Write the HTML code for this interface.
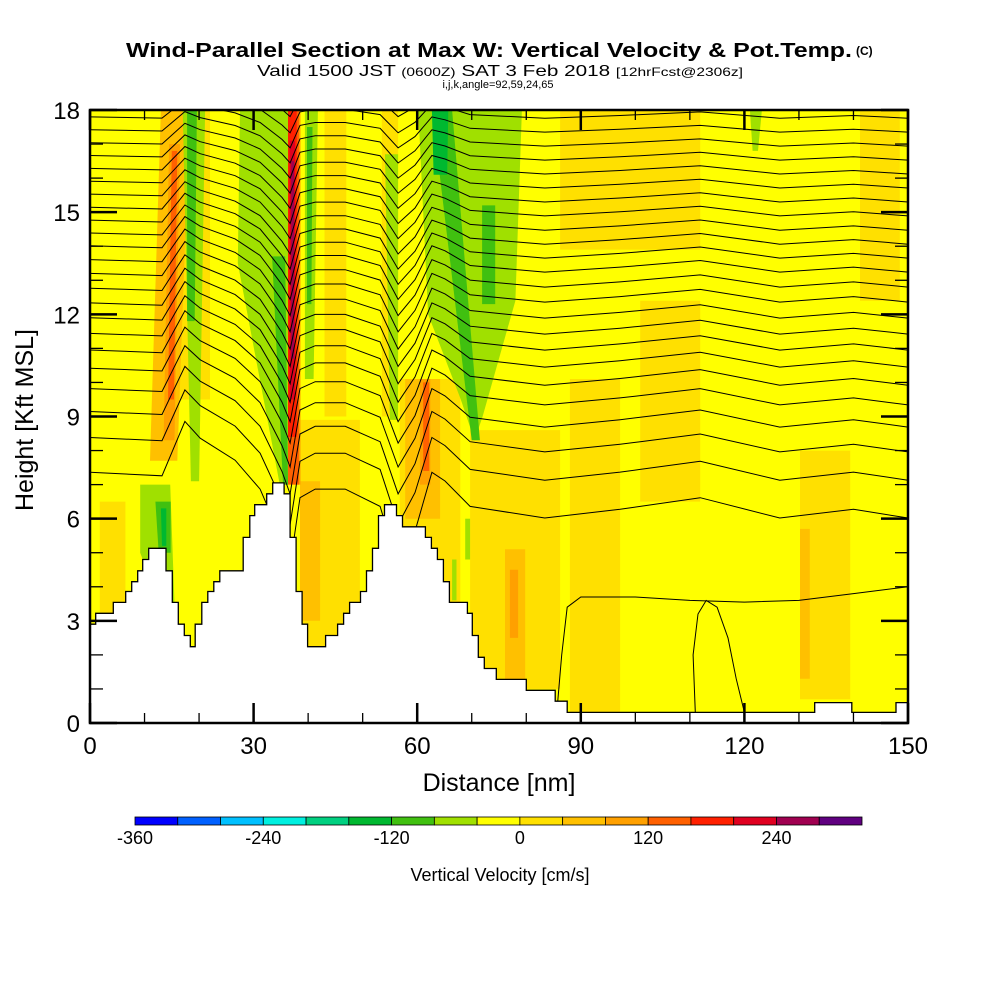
<!DOCTYPE html>
<html><head><meta charset="utf-8"><style>
html,body{margin:0;padding:0;background:#fff;}
svg{display:block;font-family:"Liberation Sans",Arial,sans-serif;}
</style></head><body>
<svg id="chart" width="1000" height="1000" viewBox="0 0 1000 1000" xmlns="http://www.w3.org/2000/svg">
<defs><clipPath id="plotclip"><rect x="90" y="110" width="818" height="613"/></clipPath></defs>
<g>
<text x="126" y="57" font-size="20" font-weight="bold" textLength="726" lengthAdjust="spacingAndGlyphs">Wind-Parallel Section at Max W: Vertical Velocity &amp; Pot.Temp.</text>
<text x="856" y="55" font-size="12" font-weight="bold">(C)</text>
<text x="257" y="76" font-size="16" textLength="486" lengthAdjust="spacingAndGlyphs">Valid 1500 JST <tspan font-size="12">(0600Z)</tspan> SAT 3 Feb 2018 <tspan font-size="12">[12hrFcst@2306z]</tspan></text>
<text x="498" y="88" font-size="11" text-anchor="middle">i,j,k,angle=92,59,24,65</text>
</g>
<g id="plot" clip-path="url(#plotclip)">
<rect x="90" y="110" width="818" height="613" fill="#ffff00"/>
<g id="patches"></g>
<g id="contours"></g>
<path id="terrain" fill="#fff" stroke="#000" stroke-width="1.3"/>
</g>
<rect x="90" y="110" width="818" height="613" fill="none" stroke="#000" stroke-width="2.5"/>
<g id="axes"></g>
<text x="499" y="791" font-size="25" text-anchor="middle">Distance [nm]</text>
<text transform="translate(33,420) rotate(-90)" font-size="25" text-anchor="middle">Height [Kft MSL]</text>
<g id="colorbar"></g>
<text x="500" y="881" font-size="18" text-anchor="middle">Vertical Velocity [cm/s]</text>
</svg>
<script>
const NS="http://www.w3.org/2000/svg";
// ---- data ----
const xTicks=[0,30,60,90,120,150];
const yTicks=[0,3,6,9,12,15,18];
const cbColors=["#0000ff","#0060ff","#00c0ff","#00f0e0","#00d080","#00b830","#40c010","#a0e000","#ffff00","#ffe000","#ffc000","#ffa000","#ff6000","#ff2000","#e00020","#a00050","#600080"];
const cbLabels=[-360,-240,-120,0,120,240];
const terrainNm=[0,1.04,4.28,6.54,7.64,8.74,9.66,10.76,13.94,15.1,16.2,17.3,18.4,19.3,20.5,21.6,22.7,23.8,28.1,29.3,30.2,32.4,33.5,35.6,36.7,37.8,38.9,39.9,43.2,45.4,46.5,47.6,49.6,50.7,51.8,52.9,54.0,56.2,57.3,61.5,62.6,63.7,64.8,65.9,69.2,70.1,71.2,72.3,74.5,80.0,85.3,87.5,132.9,139.7,147.8];
const terrainKft=[2.90,3.22,3.54,3.86,4.15,4.47,4.80,5.13,4.47,3.54,2.90,2.57,2.24,2.90,3.54,3.86,4.15,4.47,5.45,6.09,6.41,6.73,7.05,6.73,5.45,3.86,2.90,2.24,2.57,2.90,3.22,3.54,3.86,4.47,5.13,6.09,6.41,6.09,5.76,5.45,5.13,4.80,4.15,3.54,3.22,2.57,1.93,1.60,1.28,0.96,0.64,0.31,0.60,0.31,0.60];
const thetaLevels=[18.6,18.2,17.76,17.35,16.94,16.53,16.12,15.71,15.30,14.89,14.47,14.06,13.65,13.24,12.80,12.36,11.89,11.42,10.95,10.45,9.92,9.34,8.69,7.96,7.13,6.02];
const waveNm=[0,13.2,17.4,20.2,26.6,31.2,35.2,36.7,38.5,41.3,46.8,53.2,56.5,59.6,62.7,65.1,69.7,83.4,97.2,100.9,111.9,126.5,140,150];
const waveKft=[0.79,0.73,1.67,1.38,1.0,0.5,-0.38,-0.82,0.35,0.5,0.5,0.2,-0.82,-0.23,0.79,0.64,0.2,0,0.15,0.2,0.35,0,0.15,0];
const lowNm=[85.6,86.5,87.5,90,100,110,120,130,140,150];
const lowKft=[0.31,2.0,3.4,3.7,3.7,3.6,3.55,3.6,3.8,4.0];
const loopNm=[111,110.6,111.5,113,115,117,118.5,120];
const loopKft=[0.31,2.0,3.2,3.6,3.4,2.5,1.3,0.31];
const patchValues=[20,20,20,20,20,20,20,20,20,20,20,20,60,60,60,60,60,100,100,100,100,140,140,140,180,220,260,-60,-60,-60,-60,-60,-60,-60,-60,-60,-100,-100,-100,-100,-100,-100,-140,-140];
const patchShapes=[
[[1.8,0.7],[6.5,0.7],[6.5,6.5],[1.8,6.5]],
[[38.5,2.1],[49.5,2.1],[49.5,8.9],[38.5,8.9]],
[[56.8,3],[67.9,3],[67.9,10.1],[56.8,10.1]],
[[69.7,1],[86.2,1],[86.2,8.6],[69.7,8.6]],
[[88,0.3],[97.2,0.3],[97.2,10.1],[88,10.1]],
[[100.9,6.5],[111.9,6.5],[111.9,12.4],[100.9,12.4]],
[[130.2,0.7],[139.4,0.7],[139.4,8],[130.2,8]],
[[141.2,12.4],[148.5,12.4],[148.5,18],[141.2,18]],
[[86.2,13.9],[111.9,13.9],[111.9,18],[86.2,18]],
[[15.6,9.5],[22,9.5],[22,18],[15.6,18]],
[[43,9],[47,9],[47,18],[43,18]],
[[53.5,9],[56.5,9],[56.5,18],[53.5,18]],
[[11,7.7],[16,7.7],[18.3,18],[13,18]],
[[57.8,6],[64.2,6],[64.2,10.1],[57.8,10.1]],
[[76.1,0.7],[79.8,0.7],[79.8,5.1],[76.1,5.1]],
[[38.5,3],[42.2,3],[42.2,7.1],[38.5,7.1]],
[[130.2,1.3],[132,1.3],[132,5.7],[130.2,5.7]],
[[13.5,8.3],[15.5,8.3],[16.5,17],[14.5,17]],
[[60.5,7],[62.4,7],[62.4,10.1],[60.5,10.1]],
[[37.2,7],[38.6,7],[38.6,18],[37.2,18]],
[[77,2.5],[78.5,2.5],[78.5,4.5],[77,4.5]],
[[14.3,9.5],[15.4,9.5],[16,16.8],[15,16.8]],
[[35.9,7],[38.3,7],[38.3,18],[35.9,18]],
[[61.1,7.4],[62.2,7.4],[62.2,10],[61.1,10]],
[[36.3,8.4],[37.9,8.4],[37.9,18],[36.3,18]],
[[36.6,9.5],[37.6,9.5],[37.6,17.1],[36.6,17.1]],
[[36.9,10.7],[37.4,10.7],[37.4,16.5],[36.9,16.5]],
[[27.5,18],[36.3,18],[36.3,7],[34.8,7],[27.1,13.5]],
[[17,18],[21.1,18],[20,7.1],[18.5,7.1]],
[[39.4,18],[41.8,18],[41,10.1],[39.4,10.1]],
[[9.2,7],[14.7,7],[15.5,3.5],[12.8,3.5],[9.2,5]],
[[60.2,18],[79.2,18],[78,12.4],[72,9],[70.5,8.3],[68,9.5],[62,12]],
[[54.1,16.7],[56.5,16.7],[56.5,8.9],[55,8.9]],
[[121,18],[123.2,18],[122.5,16.8],[121.5,16.8]],
[[68.8,4.8],[69.7,4.8],[69.7,6],[68.8,6]],
[[66.4,3.6],[67.2,3.6],[67.2,4.8],[66.4,4.8]],
[[33.4,13.7],[35.8,13.7],[36.3,7],[35.4,7]],
[[17.8,18],[19.6,18],[19.2,11.8],[17.8,11.8]],
[[39.8,17.5],[40.8,17.5],[40.6,12.3],[39.8,12.3]],
[[12,6.5],[14.8,6.5],[14.8,5],[12.6,5]],
[[62.7,18],[66.4,18],[71.5,8.3],[70,8.3]],
[[71.9,15.2],[74.3,15.2],[74.3,12.3],[71.9,12.3]],
[[62.7,18],[65.7,18],[65.5,16.1],[63,16.1]],
[[13,6.3],[14,6.3],[14,5.2],[13.2,5.2]]
];
// ---- scales ----
const X=nm=>90+nm*818/150;
const Y=k=>723-k*613/18;
const vMin=-360,vStep=40;
function colorFor(v){let i=Math.floor((v-vMin)/vStep);i=Math.max(0,Math.min(cbColors.length-1,i));return cbColors[i];}
function mk(tag,attrs,parent){const e=document.createElementNS(NS,tag);for(const k in attrs)e.setAttribute(k,attrs[k]);parent.appendChild(e);return e;}
const pg=document.getElementById('patches');
patchShapes.forEach((sh,i)=>{
  const p=mk('polygon',{points:sh.map(q=>X(q[0]).toFixed(1)+','+Y(q[1]).toFixed(1)).join(' '),fill:colorFor(patchValues[i])},pg);
  
  
});
const cg=document.getElementById('contours');
thetaLevels.forEach(h0=>{
  const amp=0.5+(18-h0)/10;
  let d='';
  waveNm.forEach((nm,j)=>{d+=(j?'L':'M')+X(nm).toFixed(1)+','+Y(h0+amp*waveKft[j]).toFixed(1);});
  const p=mk('path',{d:d,fill:'none',stroke:'#000','stroke-width':1},cg);
  
  
});
function line(nms,ks,name){let d='';nms.forEach((n,j)=>{d+=(j?'L':'M')+X(n).toFixed(1)+','+Y(ks[j]).toFixed(1);});
  const p=mk('path',{d:d,fill:'none',stroke:'#000','stroke-width':1},cg);
  
  }
line(lowNm,lowKft,'low-isentrope');
line(loopNm,loopKft,'isentrope-loop');
let td='M'+X(0)+','+Y(-1);
terrainNm.forEach((n,i)=>{const n2=i+1<terrainNm.length?terrainNm[i+1]:150;td+='L'+X(n).toFixed(1)+','+Y(terrainKft[i]).toFixed(1)+'L'+X(n2).toFixed(1)+','+Y(terrainKft[i]).toFixed(1);});
td+='L'+X(150)+','+Y(-1)+'Z';
document.getElementById('terrain').setAttribute('d',td);
const ag=document.getElementById('axes');
for(let v=0;v<=150;v+=10){const major=v%30===0;const L=major?20:10;
  const t1=mk('line',{x1:X(v),x2:X(v),y1:723,y2:723-L,stroke:'#000','stroke-width':major?2.5:1.3},ag);
  
  const t2=mk('line',{x1:X(v),x2:X(v),y1:110,y2:110+L,stroke:'#000','stroke-width':major?2.5:1.3},ag);
  }
for(let v=0;v<=18;v+=1){const major=v%3===0;const L=major?27:13;
  const t1=mk('line',{x1:90,x2:90+L,y1:Y(v),y2:Y(v),stroke:'#000','stroke-width':major?2.5:1.3},ag);
  
  const t2=mk('line',{x1:908,x2:908-L,y1:Y(v),y2:Y(v),stroke:'#000','stroke-width':major?2.5:1.3},ag);
  }
xTicks.forEach(v=>{const t=mk('text',{x:X(v),y:754,'font-size':24,'text-anchor':'middle'},ag);t.textContent=v;
  });
yTicks.forEach(v=>{const t=mk('text',{x:80,y:Y(v)+9,'font-size':24,'text-anchor':'end'},ag);t.textContent=v;
  });
const cb=document.getElementById('colorbar');const cx0=135,cx1=862,sw=(cx1-cx0)/cbColors.length;
cbColors.forEach((c,i)=>{const r=mk('rect',{x:cx0+i*sw,y:817,width:sw,height:8,fill:c,stroke:'#000','stroke-width':0.8},cb);
  });
cbLabels.forEach(v=>{const t=mk('text',{x:cx0+(v-vMin)/vStep*sw,y:844,'font-size':18,'text-anchor':'middle'},cb);t.textContent=v;
  });
</script>
</body></html>
